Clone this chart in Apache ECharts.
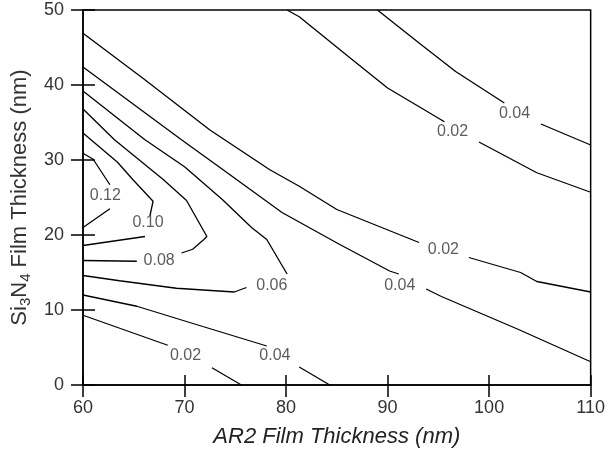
<!DOCTYPE html>
<html>
<head>
<meta charset="utf-8">
<script src="https://cdn.jsdelivr.net/npm/echarts@6/dist/echarts.min.js"></script>
<style>html,body{margin:0;padding:0;background:#fff}#c{width:608px;height:453px}</style>
</head>
<body>
<div id="c"></div>
<script>
// Axis ticks
const xTicks = [60, 70, 80, 90, 100, 110];
const yTicks = [0, 10, 20, 30, 40, 50];

// Contour line segments [AR2 nm, Si3N4 nm] (broken where labels sit)
const c002UpperA = [[80.1,50],[81.3,49.1],[86.5,43.4],[90.0,39.6],[95.6,35.1]];
const c002UpperB = [[99.0,32.4],[104.7,28.3],[110,25.7]];
const c004UpperA = [[89.0,50],[93.1,45.6],[96.7,41.8],[101.5,37.6]];
const c004UpperB = [[105.1,34.8],[110,32.0]];
const c002MidA = [[60,46.9],[66.0,40.8],[72.5,34.0],[78.4,28.7],[81.3,26.5],[85.0,23.4],[93.1,19.0]];
const c002MidB = [[98.0,17.0],[103.1,15.0],[104.7,13.8],[110,12.4]];
const c004MidA = [[60,42.4],[69.7,32.7],[74.0,28.5],[79.6,23.0],[85.2,18.8],[90.2,15.2],[91.1,14.8]];
const c004MidB = [[93.8,12.8],[95.3,11.8],[102.9,7.4],[110,3.1]];
const c006A = [[60,39.2],[66.1,32.7],[70.0,29.1],[73.75,24.7],[76.6,21.0],[78.1,19.4],[80.1,14.8]];
const c006B = [[76.1,13.0],[74.9,12.4],[69.2,12.9],[63.6,13.9],[60,14.6]];
const c008A = [[60,36.8],[63.1,32.7],[67.9,27.4],[70.2,24.6],[72.2,19.8],[71.9,19.4],[70.8,18.1],[69.7,17.6]];
const c008B = [[65.3,16.5],[60,16.6]];
const c010A = [[60,33.6],[63.4,29.7],[64.9,27.4],[66.9,24.5],[66.6,22.6]];
const c010B = [[66.1,19.8],[60,18.6]];
const c012A = [[60,30.9],[61.0,30.1],[62.65,26.7]];
const c012B = [[62.65,23.5],[60,21.0]];
const c004LowA = [[60,12.0],[65.3,10.5],[71.8,7.8],[78.1,5.2]];
const c004LowB = [[81.3,2.4],[84.3,0]];
const c002LowA = [[60,9.3],[68.35,5.3]];
const c002LowB = [[72.7,2.3],[75.6,0]];

// Contour level labels
const labelText = ['0.02','0.04','0.02','0.04','0.06','0.08','0.10','0.12','0.04','0.02'];
const labelX = [96.4, 102.5, 95.5, 91.2, 78.6, 67.5, 66.4, 62.2, 78.9, 70.1];
const labelY = [33.8, 36.2, 18.0, 13.3, 13.3, 16.6, 21.7, 25.3, 3.9, 3.9];

const segments = [c002UpperA,c002UpperB,c004UpperA,c004UpperB,c002MidA,c002MidB,c004MidA,c004MidB,
  c006A,c006B,c008A,c008B,c010A,c010B,c012A,c012B,c004LowA,c004LowB,c002LowA,c002LowB];

const FONT = "'Liberation Sans', Arial, sans-serif";
const chart = echarts.init(document.getElementById('c'), null, {renderer:'canvas'});

const series = segments.map(seg => ({
  type: 'line', data: seg, showSymbol: false, symbol: 'none', smooth: false,
  lineStyle: {color: '#000', width: 1.3}, silent: true, animation: false,
  xAxisIndex: 0, yAxisIndex: 0
}));
series.push({
  type: 'scatter', symbolSize: 0, silent: true, animation: false,
  data: labelText.map((t, i) => ({value: [labelX[i], labelY[i]], name: t})),
  label: {show: true, position: 'inside', formatter: p => p.name,
    fontFamily: FONT, fontSize: 16, color: '#333'}
});

const axisCommonX = {type: 'value', min: 60, max: 110, interval: 10, splitLine: {show: false}};
const axisCommonY = {type: 'value', min: 0, max: 50, interval: 10, splitLine: {show: false}};

chart.setOption({
  animation: false,
  backgroundColor: '#fff',
  grid: {left: 83, right: 16, top: 10, bottom: 67, show: true, borderColor: '#000', borderWidth: 1.5, backgroundColor: 'transparent'},
  xAxis: [
    Object.assign({}, axisCommonX, {
      position: 'bottom',
      axisLine: {show: true, lineStyle: {color: '#000', width: 1.5}},
      axisTick: {show: true, inside: false, length: 12, lineStyle: {color: '#000', width: 1.5}},
      axisLabel: {show: true, margin: 14, fontFamily: FONT, fontSize: 18, color: '#333',
        formatter: v => xTicks.includes(v) ? String(v) : ''},
      name: 'AR2 Film Thickness (nm)', nameLocation: 'middle', nameGap: 41,
      nameTextStyle: {fontFamily: FONT, fontSize: 22, fontStyle: 'italic', color: '#222'}
    }),
    Object.assign({}, axisCommonX, {
      position: 'bottom',
      axisLine: {show: false},
      axisTick: {show: true, inside: true, length: 10, lineStyle: {color: '#000', width: 1.5}},
      axisLabel: {show: false}
    })
  ],
  yAxis: [
    Object.assign({}, axisCommonY, {
      position: 'left',
      axisLine: {show: true, lineStyle: {color: '#000', width: 1.5}},
      axisTick: {show: true, inside: false, length: 12, lineStyle: {color: '#000', width: 1.5}},
      axisLabel: {show: true, margin: 19, fontFamily: FONT, fontSize: 18, color: '#333',
        formatter: v => yTicks.includes(v) ? String(v) : ''},
      name: 'Si{sub|3}N{sub|4} Film Thickness (nm)', nameLocation: 'middle', nameGap: 48,
      nameTextStyle: {fontFamily: FONT, fontSize: 22, color: '#333',
        rich: {sub: {fontFamily: FONT, fontSize: 15, color: '#333', padding: [12, 0, 0, 0]}}}
    }),
    Object.assign({}, axisCommonY, {
      position: 'left',
      axisLine: {show: false},
      axisTick: {show: true, inside: true, length: 12, lineStyle: {color: '#000', width: 1.5}},
      axisLabel: {show: false}
    })
  ],
  series: series
});
</script>
</body>
</html>
